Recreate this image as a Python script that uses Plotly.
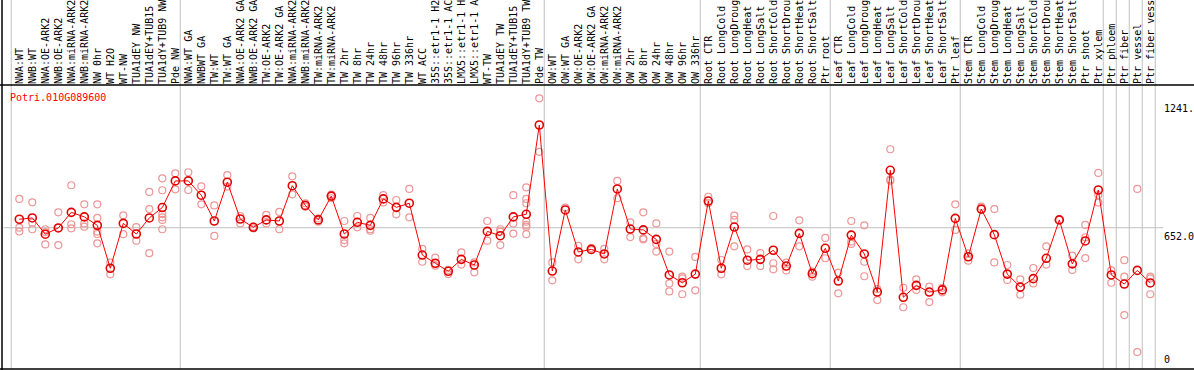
import plotly.graph_objects as go

title_text = "Potri.010G089600"

labels = [
    "NWA:WT", "NWB:WT", "NWA:OE-ARK2", "NWB:OE-ARK2", "NWA:miRNA-ARK2", "NWB:miRNA-ARK2",
    "NW 0hr", "WT H2O", "WT-NW", "TUA1dEY NW", "TUA1dEY+TUB15 NW", "TUA1dY+TUB9 NW", "Pde NW",
    "NWA:WT GA", "NWBWT GA", "TW:WT", "TW:WT GA", "NWA:OE-ARK2 GA", "NWB:OE-ARK2 GA",
    "TW:OE-ARK2", "TW:OE-ARK2 GA", "NWA:miRNA-ARK2 GA", "NWB:miRNA-ARK2 GA", "TW:miRNA-ARK2",
    "TW:miRNA-ARK2", "TW 2hr", "TW 8hr", "TW 24hr", "TW 48hr", "TW 96hr", "TW 336hr", "WT ACC",
    "35S::etr1-1 H2O", "35S::etr1-1 ACC", "LMX5::etr1-1 H2O", "LMX5::etr1-1 ACC", "WT-TW",
    "TUA1dEY TW", "TUA1dEY+TUB15 TW", "TUA1dY+TUB9 TW", "Pde TW",
    "OW:WT", "OW:WT GA", "OW:OE-ARK2", "OW:OE-ARK2 GA", "OW:miRNA-ARK2", "OW:miRNA-ARK2",
    "OW 2hr", "OW 8hr", "OW 24hr", "OW 48hr", "OW 96hr", "OW 336hr",
    "Root CTR", "Root LongCold", "Root LongDrought", "Root LongHeat", "Root LongSalt",
    "Root ShortCold", "Root ShortDrought", "Root ShortHeat", "Root ShortSalt", "Ptr root",
    "Leaf CTR", "Leaf LongCold", "Leaf LongDrought", "Leaf LongHeat", "Leaf LongSalt",
    "Leaf ShortCold", "Leaf ShortDrought", "Leaf ShortHeat", "Leaf ShortSalt", "Ptr leaf",
    "Stem CTR", "Stem LongCold", "Stem LongDrought", "Stem LongHeat", "Stem LongSalt",
    "Stem ShortCold", "Stem ShortDrought", "Stem ShortHeat", "Stem ShortSalt", "Ptr shoot",
    "Ptr xylem", "Ptr phloem", "Ptr fiber", "Ptr vessel", "Ptr fiber vessel",
]

means = [
    691, 697, 622, 651, 723, 702, 663, 465, 672, 623, 697, 745, 868,
    868, 802, 683, 862, 692, 654, 688, 683, 846, 755, 688, 798, 623, 677, 663, 785, 746,
    765, 526, 488, 451, 506, 480, 635, 615, 702, 714, 1126,
    452, 734, 540, 552, 531, 831, 646, 642, 598, 434, 398, 438,
    775, 465, 655, 502, 506, 548, 475, 626, 440, 557,
    406, 618, 531, 355, 917, 331, 386, 355, 365, 695,
    518, 738, 620, 438, 378, 417, 511, 688, 485, 591,
    826, 434, 392, 455, 397,
]

replicates = [
    [785, 652, 634], [769, 675, 645], [645, 632, 575], [723, 651, 572], [848, 668, 649],
    [760, 672, 657], [760, 697, 634, 623, 580], [491, 437], [709, 622], [655, 592],
    [817, 738, 535], [880, 825, 715, 700, 688, 645], [903, 829],
    [908, 826], [843, 760], [755, 614], [895, 842], [706, 672], [657, 649], [711, 672],
    [725, 645], [889, 806], [765, 749], [695, 680], [805, 788], [683, 595, 580], [706, 654],
    [697, 645, 638], [802, 768], [780, 714], [831, 700], [554, 495], [514, 477], [457, 438],
    [538, 482], [492, 446], [683, 592], [645, 634, 572], [802, 672, 625],
    [838, 785, 765, 680, 665, 657, 622], [1249, 1002],
    [492, 409], [745], [568, 506], [558, 548], [554, 506], [868, 788], [677, 609],
    [723, 603, 598], [672, 577, 542], [542, 395, 358], [426, 418, 345], [517, 363],
    [795, 765], [503, 437], [708, 688, 566], [552, 475], [535, 475], [706, 488, 460],
    [491, 455], [686, 566], [449, 426], [605, 511],
    [445, 349], [683, 588, 577], [663, 495, 428], [369, 318], [1014, 875, 869], [375, 285],
    [414, 365], [380, 309], [375, 354], [760, 642],
    [534, 500], [749], [738, 492], [480, 411], [414, 343], [466, 395], [566, 482], [688],
    [523, 457], [665, 608, 512],
    [905, 803, 768], [455, 398], [502, 426, 249], [831, 78], [426, 418, 345],
]

# index of last sample in each group (separator drawn after it)
group_ends = [-1, 12, 40, 52, 62, 72, 83, 84, 85, 86, 87]

y_tick_values = [0, 652.0, 1241]
y_tick_texts = ["0", "652.0", "1241."]

W, H = 1194, 370
TOP = 85
x_range = [-1.4846, 90.3615]
y_range = [-4.615, 1310.6]

x_idx = list(range(len(labels)))
rx, ry = [], []
for i, reps in enumerate(replicates):
    for v in reps:
        rx.append(i)
        ry.append(v)

def xpaper(v):
    return (v - x_range[0]) / (x_range[1] - x_range[0])

def ypaper(v):
    return (v - y_range[0]) / (y_range[1] - y_range[0])

fig = go.Figure()
fig.add_trace(go.Scatter(
    x=rx, y=ry, mode="markers", hoverinfo="skip",
    marker=dict(symbol="circle-open", size=7, color="rgb(236,150,150)",
                line=dict(width=1.2, color="rgb(236,150,150)")),
))
fig.add_trace(go.Scatter(
    x=x_idx, y=means, mode="lines+markers",
    line=dict(color="rgb(255,0,0)", width=1),
    marker=dict(symbol="circle-open", size=8, color="rgb(225,0,0)",
                line=dict(width=1.6, color="rgb(225,0,0)")),
))

shapes = []
ybot_p = ypaper(0)
ytop_p = H / (H - TOP)
for e in group_ends:
    xp = xpaper(e + 0.38)
    shapes.append(dict(type="line", xref="paper", yref="paper", x0=xp, x1=xp,
                       y0=ybot_p, y1=ytop_p, line=dict(color="rgb(192,192,192)", width=1),
                       layer="below"))
# mid gridline
shapes.append(dict(type="line", xref="paper", yref="paper", x0=xpaper(-1.2), x1=xpaper(88.0),
                   y0=ypaper(652.0), y1=ypaper(652.0),
                   line=dict(color="rgb(192,192,192)", width=1), layer="below"))
# frame lines
shapes.append(dict(type="line", xref="paper", yref="paper", x0=0, x1=1, y0=1, y1=1,
                   line=dict(color="black", width=1.5)))
shapes.append(dict(type="line", xref="paper", yref="paper", x0=0, x1=1, y0=ybot_p, y1=ybot_p,
                   line=dict(color="black", width=1.5)))
shapes.append(dict(type="line", xref="paper", yref="paper", x0=2 / W, x1=2 / W, y0=0, y1=ytop_p,
                   line=dict(color="black", width=1.5)))

annotations = [dict(text=title_text, xref="paper", yref="paper", x=8 / W, y=ypaper(1255),
                    xanchor="left", yanchor="middle", showarrow=False,
                    font=dict(family="DejaVu Sans Mono", size=10, color="red"))]
for v, t in zip(y_tick_values, y_tick_texts):
    if v == 0:
        annotations.append(dict(text=t, x=1162 / W, y=ypaper(v), xref="paper", yref="paper",
                                xanchor="left", yanchor="bottom", yshift=2, showarrow=False,
                                font=dict(family="DejaVu Sans Mono", size=10, color="black")))
    else:
        annotations.append(dict(text=t, x=1162 / W, y=ypaper(v), xref="paper", yref="paper",
                                xanchor="left", yanchor="top", yshift=-1, showarrow=False,
                                font=dict(family="DejaVu Sans Mono", size=10, color="black")))

fig.update_layout(
    width=W, height=H,
    margin=dict(l=0, r=0, t=TOP, b=0, pad=0),
    paper_bgcolor="white", plot_bgcolor="white",
    showlegend=False,
    shapes=shapes, annotations=annotations,
    xaxis=dict(range=x_range, side="top", tickmode="array", tickvals=x_idx, ticktext=labels,
               tickangle=-90, showgrid=False, zeroline=False, showline=False, ticks="",
               automargin=False, fixedrange=True,
               tickfont=dict(family="DejaVu Sans Mono", size=10, color="black")),
    yaxis=dict(range=y_range, showgrid=False, zeroline=False, showline=False,
               showticklabels=False, ticks="", fixedrange=True),
)

fig.write_html("out.html", config={"displayModeBar": False},
               post_script="document.body.style.margin='0';document.body.style.overflow='hidden';")
